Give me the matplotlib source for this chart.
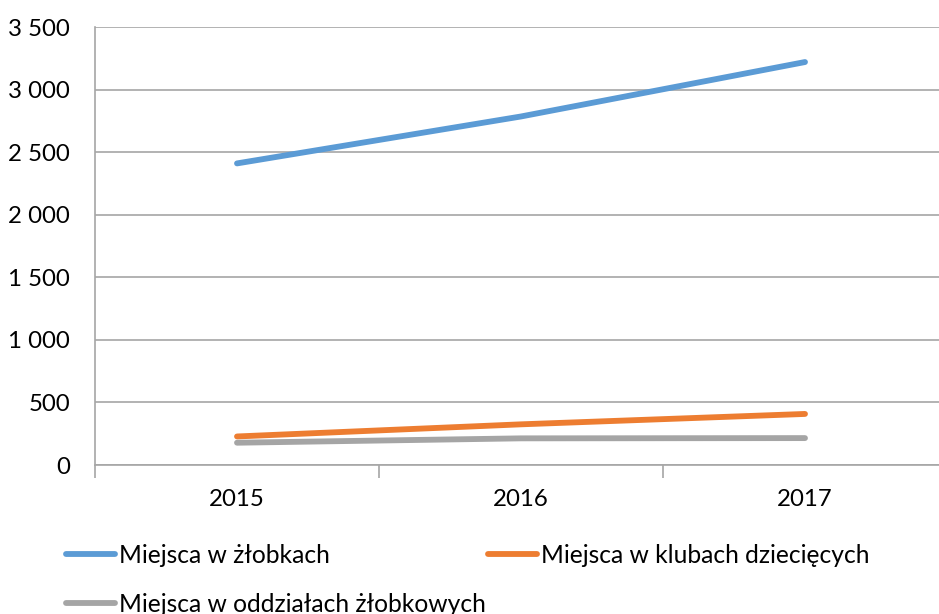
import matplotlib
matplotlib.use('Agg')
import matplotlib.pyplot as plt
import numpy as np

# Dane
lata = ['2015', '2016', '2017']
zlobki = [2410, 2785, 3220]
kluby = [228, 325, 408]
oddzialy = [178, 213, 215]

nazwy = ['Miejsca w żłobkach', 'Miejsca w klubach dziecięcych', 'Miejsca w oddziałach żłobkowych']
kolory = ['#5B9BD5', '#ED7D31', '#A5A5A5']

plt.rcParams['font.family'] = ['Lato', 'DejaVu Sans']
plt.rcParams['font.size'] = 17.3

W, H = 939, 614
fig = plt.figure(figsize=(W / 100, H / 100), dpi=100)
# plot area: x 95..947 px, y 27..465 px
ax = fig.add_axes([95 / W, 1 - 465 / H, (947 - 95) / W, (465 - 27) / H])

x = np.arange(len(lata))
linie = []
for dane, kolor, nazwa in zip([zlobki, kluby, oddzialy], kolory, nazwy):
    l, = ax.plot(x, dane, color=kolor, lw=4.2, solid_capstyle='round', label=nazwa)
    linie.append(l)

ax.set_xlim(-0.5, 2.5)
ax.set_ylim(0, 3500)
yt = np.arange(0, 3501, 500)
ax.set_yticks(yt)
ax.set_yticklabels([f'{v:,}'.replace(',', ' ') for v in yt])
ax.yaxis.grid(True, color='#A6A6A6', lw=1.2)
ax.set_axisbelow(True)
ax.tick_params(axis='y', length=0, pad=18)

# etykiety kategorii w środku, kreski na granicach
ax.set_xticks(x)
ax.set_xticklabels(lata)
ax.tick_params(axis='x', which='major', length=0, pad=17)
ax.set_xticks(np.arange(-0.5, 3, 1), minor=True)
ax.tick_params(axis='x', which='minor', length=9, color='#A6A6A6', width=1.2)

for s in ['top', 'right']:
    ax.spines[s].set_visible(False)
ax.spines['left'].set_color('#A6A6A6')
ax.spines['bottom'].set_color('#A6A6A6')
ax.spines['left'].set_linewidth(1.2)
ax.spines['bottom'].set_linewidth(1.2)

# kolejność tak, by orange był w drugiej kolumnie pierwszego wiersza
fig.legend([linie[0], linie[2], linie[1]], [nazwy[0], nazwy[2], nazwy[1]],
           loc='upper left', bbox_to_anchor=(66 / W, 1 - 544 / H), ncol=2,
           frameon=False, fontsize=17.7, handlelength=2.0, handletextpad=0.15,
           columnspacing=0.1, labelspacing=1.05, borderpad=0, borderaxespad=0)

fig.savefig('out.png', dpi=100)
